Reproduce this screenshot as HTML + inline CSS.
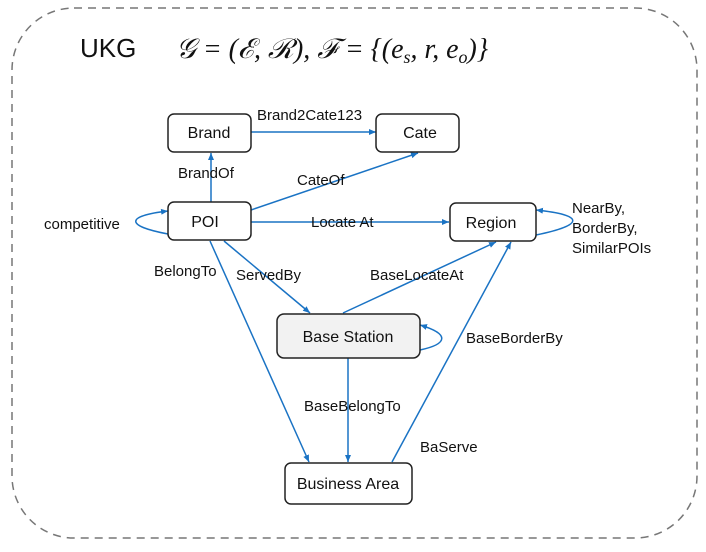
<!DOCTYPE html>
<html><head><style>
html,body{margin:0;padding:0;background:#fff;}
svg{display:block;}
text{font-family:"Liberation Sans",sans-serif;font-size:15px;fill:#111;}
</style></head><body>
<svg width="706" height="552" viewBox="0 0 706 552">
<defs>
<marker id="a" markerWidth="8" markerHeight="8" refX="7" refY="4" orient="auto" markerUnits="userSpaceOnUse">
<path d="M0,1 L7,4 L0,7 Z" fill="#1a73c4"/></marker>
</defs>
<rect x="12" y="8" width="685" height="530" rx="62" ry="62" fill="none" stroke="#777" stroke-width="1.5" stroke-dasharray="8,6"/>
<text x="80" y="57" style="font-size:26px">UKG</text>
<text x="176" y="58" textLength="312" lengthAdjust="spacingAndGlyphs" style="font-family:'Liberation Serif',serif;font-size:28px;font-style:italic">𝒢 = (ℰ, ℛ), ℱ = {(e<tspan style="font-size:18px" dy="5">s</tspan><tspan dy="-5">, r, e</tspan><tspan style="font-size:18px" dy="5">o</tspan><tspan dy="-5">)}</tspan></text>
<g stroke="#1a73c4" stroke-width="1.5" fill="none">
<line x1="251" y1="132" x2="376" y2="132" marker-end="url(#a)"/>
<line x1="211" y1="202" x2="211" y2="153" marker-end="url(#a)"/>
<line x1="251" y1="210" x2="418" y2="153" marker-end="url(#a)"/>
<line x1="251" y1="222" x2="449" y2="222" marker-end="url(#a)"/>
<path d="M168,234 C125,226 125,216 168,211" marker-end="url(#a)"/>
<path d="M536,235 C585,225 585,215 536,210" marker-end="url(#a)"/>
<line x1="224" y1="241" x2="310" y2="313" marker-end="url(#a)"/>
<line x1="210" y1="241" x2="309" y2="462" marker-end="url(#a)"/>
<line x1="343" y1="313" x2="496" y2="242" marker-end="url(#a)"/>
<line x1="392" y1="462" x2="511" y2="242" marker-end="url(#a)"/>
<line x1="348" y1="358" x2="348" y2="462" marker-end="url(#a)"/>
<path d="M420,350 C448,344 450,334 420,325" marker-end="url(#a)"/>
</g>
<g stroke="#222" stroke-width="1.5">
<rect x="168" y="114" width="83" height="38" rx="6" fill="#fff"/>
<rect x="376" y="114" width="83" height="38" rx="6" fill="#fff"/>
<rect x="168" y="202" width="83" height="38" rx="6" fill="#fff"/>
<rect x="450" y="203" width="86" height="38" rx="6" fill="#fff"/>
<rect x="277" y="314" width="143" height="44" rx="7" fill="#f2f2f2"/>
<rect x="285" y="463" width="127" height="41" rx="6" fill="#fff"/>
</g>
<g text-anchor="middle">
<text x="209" y="138" style="font-size:16px">Brand</text>
<text x="420" y="138" style="font-size:16px">Cate</text>
<text x="205" y="227" style="font-size:16px">POI</text>
<text x="491" y="228" style="font-size:16px">Region</text>
<text x="348" y="342" style="font-size:16px">Base Station</text>
<text x="348" y="489" style="font-size:16px">Business Area</text>
</g>
<text x="257" y="120">Brand2Cate123</text>
<text x="178" y="178">BrandOf</text>
<text x="297" y="185">CateOf</text>
<text x="311" y="227">Locate At</text>
<text x="44" y="229">competitive</text>
<text x="572" y="213">NearBy,</text>
<text x="572" y="233">BorderBy,</text>
<text x="572" y="253">SimilarPOIs</text>
<text x="154" y="276">BelongTo</text>
<text x="236" y="280">ServedBy</text>
<text x="370" y="280">BaseLocateAt</text>
<text x="466" y="343">BaseBorderBy</text>
<text x="304" y="411">BaseBelongTo</text>
<text x="420" y="452">BaServe</text>
</svg>
</body></html>
